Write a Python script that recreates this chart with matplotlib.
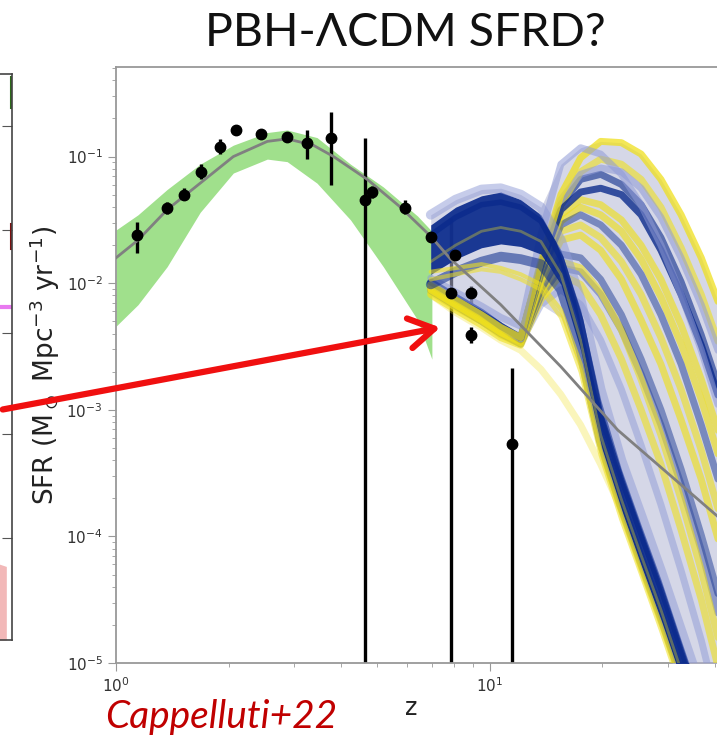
import numpy as np
import matplotlib
matplotlib.use("Agg")
import matplotlib.pyplot as plt
from matplotlib.patches import FancyArrowPatch

# ---------------- data ----------------
# observed SFRD points (z, value, lower, upper)
obs_z = [1.14, 1.37, 1.52, 1.69, 1.90, 2.10, 2.45, 2.86, 3.25, 3.75, 4.65, 4.83,
         5.92, 6.95, 7.86, 8.06, 8.92, 8.92, 11.5]
obs_sfr = [0.0242, 0.0395, 0.050, 0.076, 0.120, 0.163, 0.152, 0.144, 0.129, 0.141,
           0.0457, 0.0528, 0.0395, 0.0233, 0.0083, 0.0168, 0.0083, 0.0039, 0.00054]
obs_lo = [0.0174, 0.0355, 0.045, 0.066, 0.105, 0.150, 0.145, 0.140, 0.095, 0.060,
          1e-7, 0.047, 0.035, 0.0215, 1e-7, 0.0158, 0.0063, 0.0034, 1e-7]
obs_hi = [0.0302, 0.044, 0.056, 0.088, 0.137, 0.178, 0.160, 0.148, 0.163, 0.227,
          0.141, 0.059, 0.045, 0.0252, 0.033, 0.0178, 0.0095, 0.0045, 0.00215]

# LCDM model curve (log10 SFR)
model_z = [1.0, 1.145, 1.37, 1.68, 2.06, 2.54, 2.87, 3.37, 3.82, 4.70, 5.77, 6.95,
           7.86, 10.7, 15.5, 22.0, 41.0]
model_log = [-1.80, -1.66, -1.42, -1.21, -1.00, -0.88, -0.86, -0.91, -1.00, -1.18,
             -1.40, -1.63, -1.81, -2.17, -2.66, -3.16, -3.85]

# green uncertainty band (log10 SFR)
band_z = [1.0, 1.145, 1.37, 1.68, 2.06, 2.54, 2.87, 3.45, 4.24, 5.19, 6.41, 7.0]
band_lo = [-2.34, -2.17, -1.87, -1.44, -1.13, -1.02, -1.04, -1.21, -1.50, -1.87, -2.29, -2.60]
band_hi = [-1.58, -1.46, -1.26, -1.06, -0.91, -0.81, -0.79, -0.85, -1.06, -1.24, -1.47, -1.59]

# PBH-LCDM ensemble curves (log10 SFR) on a common z grid
ens_z = [6.95, 8.1, 9.5, 10.7, 12.1, 13.7, 15.5, 17.5, 19.8, 22.5, 25.4, 28.7, 32.5, 36.8, 41.6]
# family with a mild hump and a steep fall
hump_0 = [-1.46, -1.34, -1.26, -1.25, -1.30, -1.40, -1.66, -2.13, -2.84, -3.40, -3.83, -4.27, -4.74, -5.21, -5.69]
hump_1 = [-1.54, -1.40, -1.31, -1.28, -1.34, -1.46, -1.74, -2.21, -2.92, -3.47, -3.91, -4.34, -4.82, -5.29, -5.77]
hump_2 = [-1.62, -1.48, -1.38, -1.36, -1.40, -1.51, -1.80, -2.29, -3.04, -3.55, -3.99, -4.42, -4.90, -5.37, -5.85]
hump_3 = [-1.72, -1.58, -1.48, -1.45, -1.50, -1.59, -1.85, -2.37, -3.12, -3.63, -4.07, -4.50, -4.98, -5.45, -5.93]
hump_4 = [-1.83, -1.70, -1.59, -1.56, -1.59, -1.67, -1.93, -2.45, -3.20, -3.71, -4.15, -4.58, -5.06, -5.53, -6.00]
hump_5 = [-1.93, -1.81, -1.72, -1.69, -1.71, -1.77, -2.01, -2.53, -3.28, -3.79, -4.23, -4.66, -5.13, -5.61, -6.08]
hump_6 = [-2.01, -1.91, -1.83, -1.79, -1.81, -1.85, -2.05, -2.53, -3.24, -3.75, -4.19, -4.62, -5.09, -5.57, -6.04]
hump_y1 = [-1.91, -1.88, -1.85, -1.88, -1.93, -2.01, -2.21, -2.64, -3.32, -3.83, -4.27, -4.70, -5.17, -5.65, -6.12]
hump_y2 = [-1.97, -1.93, -1.89, -1.91, -1.97, -2.05, -2.27, -2.70, -3.36, -3.87, -4.30, -4.74, -5.21, -5.69, -6.16]
# family with a dip and a late burst
burst_0 = [-1.96, -2.07, -2.18, -2.27, -2.34, -1.62, -1.06, -0.93, -0.98, -1.14, -1.38, -1.70, -2.09, -2.53, -3.04]
burst_1 = [-2.01, -2.13, -2.25, -2.35, -2.43, -1.83, -1.30, -1.01, -0.88, -0.89, -0.98, -1.18, -1.46, -1.80, -2.21]
burst_2 = [-1.99, -2.11, -2.23, -2.34, -2.43, -1.85, -1.42, -1.28, -1.25, -1.30, -1.46, -1.74, -2.09, -2.49, -2.96]
burst_3 = [-2.00, -2.12, -2.24, -2.34, -2.44, -1.87, -1.38, -1.18, -1.14, -1.22, -1.38, -1.64, -1.99, -2.41, -2.88]
burst_4 = [-2.05, -2.17, -2.29, -2.39, -2.46, -1.89, -1.46, -1.34, -1.38, -1.50, -1.70, -1.97, -2.33, -2.76, -3.24]
burst_5 = [-2.01, -2.13, -2.25, -2.35, -2.45, -1.93, -1.54, -1.46, -1.54, -1.70, -1.93, -2.25, -2.64, -3.12, -3.63]
burst_6 = [-2.04, -2.15, -2.27, -2.37, -2.45, -1.91, -1.51, -1.40, -1.46, -1.59, -1.81, -2.11, -2.48, -2.92, -3.43]
burst_7 = [-2.07, -2.19, -2.30, -2.41, -2.48, -1.99, -1.66, -1.62, -1.74, -1.97, -2.29, -2.64, -3.08, -3.55, -4.11]
burst_8 = [-2.04, -2.15, -2.27, -2.37, -2.46, -2.05, -1.77, -1.80, -1.97, -2.25, -2.60, -3.00, -3.47, -3.99, -4.54]
burst_9 = [-2.05, -2.17, -2.29, -2.39, -2.47, -2.07, -1.83, -1.88, -2.07, -2.37, -2.76, -3.20, -3.71, -4.27, -4.90]
burst_10 = [-2.09, -2.21, -2.33, -2.43, -2.49, -2.13, -1.93, -2.01, -2.25, -2.60, -3.00, -3.43, -3.95, -4.50, -5.13]
burst_11 = [-2.05, -2.17, -2.29, -2.39, -2.47, -2.17, -2.05, -2.17, -2.45, -2.84, -3.28, -3.75, -4.27, -4.82, -5.45]
burst_12 = [-2.02, -2.14, -2.26, -2.36, -2.44, -1.86, -1.38, -1.12, -1.02, -1.06, -1.18, -1.40, -1.72, -2.09, -2.53]
burst_13 = [-2.00, -2.11, -2.23, -2.34, -2.44, -1.83, -1.34, -1.14, -1.09, -1.12, -1.25, -1.48, -1.80, -2.17, -2.60]
burst_14 = [-2.04, -2.16, -2.28, -2.38, -2.46, -1.97, -1.59, -1.54, -1.64, -1.83, -2.09, -2.43, -2.84, -3.32, -3.87]
burst_15 = [-2.06, -2.18, -2.30, -2.40, -2.48, -2.10, -1.88, -1.91, -2.09, -2.37, -2.72, -3.12, -3.59, -4.11, -4.70]
fade_0 = [-2.09, -2.23, -2.35, -2.45, -2.53, -2.68, -2.88, -3.12, -3.43, -3.79, -4.19, -4.62, -5.09, -5.61, -6.16]

# neighbouring (cropped) panel on the left
left_ticks = [0.180, 0.364, 0.542, 0.724, 0.908]
left_magenta_y = 0.588

NAVY = "#0a2a8c"
YELLOW = "#efe01e"
LILAC = "#8f9ad6"

W, H = 717, 740
fig = plt.figure(figsize=(W / 100, H / 100), dpi=100)

# ---------------- cropped left panel ----------------
axl = fig.add_axes([-0.30, (H - 640) / H, 0.30 + 12 / W, (640 - 74) / H])
axl.set_xlim(0, 1)
axl.set_ylim(0, 1)
axl.set_xticks([])
axl.yaxis.tick_right()
axl.set_yticks(left_ticks)
axl.tick_params(axis="y", direction="in", length=7, color="#555", labelright=False)
for s in axl.spines.values():
    s.set_color("#444")
    s.set_linewidth(1.2)
axl.plot([0.90, 1.0], [left_magenta_y, left_magenta_y], color="#e879f0", lw=3)
axl.fill_between([0.90, 0.975], [0, 0], [0.14, 0.13], color="#f2b8b8", lw=0)
axl.plot([0.995, 0.995], [0.69, 0.735], color="#7a1010", lw=1.5)
axl.plot([0.995, 0.995], [0.94, 0.995], color="#2d6a1a", lw=1.5)

# ---------------- main panel ----------------
ax = fig.add_axes([116 / W, (H - 663) / H, (W - 116) / W + 0.002, (663 - 67) / H])
ax.set_xscale("log")
ax.set_yscale("log")
ax.set_xlim(1, 40.9)
ax.set_ylim(1e-5, 0.51)

ax.fill_between(band_z, 10 ** np.array(band_lo), 10 ** np.array(band_hi),
                color="#a0e08c", lw=0, zorder=1)

# error bars below the ensemble, markers above
ax.errorbar(obs_z, obs_sfr,
            yerr=[np.array(obs_sfr) - np.array(obs_lo), np.array(obs_hi) - np.array(obs_sfr)],
            fmt="none", ecolor="black", elinewidth=2.4, capsize=0, zorder=2)

zz = np.array(ens_z)
main_curves = np.array([hump_0, hump_1, hump_2, hump_3, hump_4, hump_5, hump_6, hump_y1, hump_y2,
                        burst_0, burst_1, burst_2, burst_3, burst_4, burst_5, burst_6, burst_7,
                        burst_8, burst_9, burst_10, burst_11, burst_12, burst_13, burst_14,
                        burst_15])
env_hi = main_curves.max(axis=0)
env_lo = main_curves.min(axis=0)
ax.fill_between(zz, 10 ** env_lo, 10 ** env_hi, color="#b3b6d4", alpha=0.55, lw=0, zorder=3)


def draw(vals, color, lw, alpha):
    ax.plot(zz, 10 ** np.array(vals), color=color, lw=lw, alpha=alpha,
            solid_capstyle="round", solid_joinstyle="round", zorder=3)


# dip/burst family
for v, c, a in [(fade_0, YELLOW, 0.3), (burst_11, LILAC, 0.5), (burst_10, YELLOW, 0.6),
                (burst_15, NAVY, 0.35), (burst_9, YELLOW, 0.6), (burst_8, NAVY, 0.45),
                (burst_7, YELLOW, 0.65), (burst_14, YELLOW, 0.6), (burst_6, YELLOW, 0.65),
                (burst_5, NAVY, 0.45), (burst_4, YELLOW, 0.65), (burst_3, NAVY, 0.6),
                (burst_12, YELLOW, 0.6), (burst_13, LILAC, 0.55), (burst_2, NAVY, 0.8),
                (burst_1, YELLOW, 0.75), (burst_0, LILAC, 0.55)]:
    draw(v, c, 5, a)

# hump family: dense core
ax.fill_between(zz, 10 ** np.array(hump_1), 10 ** np.array(hump_5),
                color=NAVY, alpha=0.92, lw=0, zorder=3)
draw(hump_0, LILAC, 7, 0.5)
draw(hump_6, NAVY, 7, 0.55)
draw(hump_y2, YELLOW, 3, 0.55)
draw(hump_y1, YELLOW, 3, 0.6)
draw(hump_4, YELLOW, 2, 0.35)
draw(hump_2, NAVY, 4, 0.8)

# model line
ax.plot(model_z, 10 ** np.array(model_log), color="#808080", lw=2, zorder=4)
# markers
ax.plot(obs_z, obs_sfr, "o", color="black", ms=7.5, zorder=5)

for s in ["left", "bottom", "top"]:
    ax.spines[s].set_color("#999999")
    ax.spines[s].set_linewidth(1.3)
ax.spines["right"].set_visible(False)
ax.tick_params(which="major", length=6, color="#999999", labelsize=11, labelcolor="#333333")
ax.tick_params(which="minor", length=3, color="#999999")
ax.set_xticks([1, 10])
ax.set_yticks([1e-5, 1e-4, 1e-3, 1e-2, 1e-1])

ax.set_ylabel(r"SFR (M$_\odot$ Mpc$^{-3}$ yr$^{-1}$)", fontsize=19, color="#222222")
ax.yaxis.set_label_coords(-0.09, 0.5)
ax.set_xlabel("z", fontsize=17, color="#222222")
ax.xaxis.set_label_coords(0.49, -0.055)

# title and citation
fig.text(405 / W, 1 - 33 / H, "PBH-ΛCDM SFRD?", ha="center", va="center",
         fontsize=33.5, family=["Lato", "DejaVu Sans"], color="#111111")
fig.text(105 / W, 1 - 717 / H, "Cappelluti+22", ha="left", va="center",
         fontsize=28, style="italic", family=["Lato", "DejaVu Sans"], color="#c00000")

# red arrow
arrow = FancyArrowPatch(posA=(0, 1 - 410 / H), posB=(443 / W, 1 - 327 / H),
                        transform=fig.transFigure, arrowstyle="->,head_length=1.0,head_width=0.6",
                        mutation_scale=18, color="#f01010", lw=4.5, zorder=10)
fig.add_artist(arrow)

fig.savefig("out.png", dpi=100)
